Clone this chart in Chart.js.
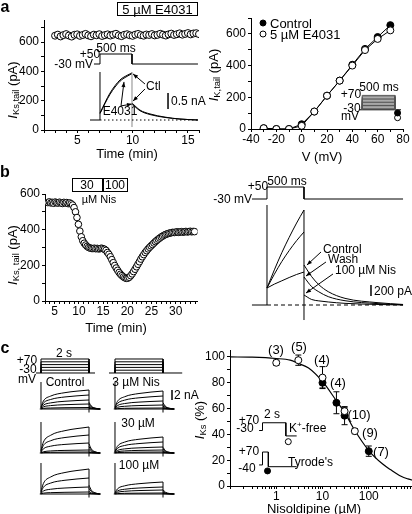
<!DOCTYPE html>
<html>
<head>
<meta charset="utf-8">
<script src="https://cdn.jsdelivr.net/npm/chart.js@4.4.1/dist/chart.umd.min.js"></script>
<style>
html, body { margin: 0; padding: 0; background: #fff; overflow: hidden; }
#page { position: relative; width: 412px; height: 514px; overflow: hidden; font-family: "Liberation Sans", Arial, sans-serif; color: #000; }
#page canvas { position: absolute; }
.lbl { position: absolute; white-space: nowrap; line-height: 1; }
.lbl sub { font-size: 0.72em; vertical-align: -0.3em; line-height: 0; }
.frame { position: absolute; border: 1px solid #000; box-sizing: border-box; }
.dot { position: absolute; width: 7px; height: 7px; border-radius: 50%; border: 1px solid #000; box-sizing: border-box; transform: translate(-50%, -50%); }
</style>
</head>
<body>
<div id="page"></div>
<script>
// ---------- panel a, left: tail current in 5 uM E4031 (min, pA)
const e4031Time = [3, 3.25, 3.5, 3.75, 4, 4.25, 4.5, 4.75, 5, 5.25,
    5.5, 5.75, 6, 6.25, 6.5, 6.75, 7, 7.25, 7.5, 7.75,
    8, 8.25, 8.5, 8.75, 9, 9.25, 9.5, 9.75, 10, 10.25,
    10.5, 10.75, 11, 11.25, 11.5, 11.75, 12, 12.25, 12.5, 12.75,
    13, 13.25, 13.5, 13.75, 14, 14.25, 14.5, 14.75, 15, 15.25,
    15.5, 15.75, 16];
const e4031Tail = [643, 650, 638, 647, 654, 644, 637, 649, 652, 642,
    648, 655, 645, 639, 650, 646, 653, 641, 647, 652,
    644, 650, 656, 645, 640, 649, 653, 646, 642, 650,
    655, 647, 643, 651, 648, 654, 645, 649, 656, 650,
    644, 652, 657, 648, 653, 659, 650, 655, 661, 652,
    658, 660, 654];
// inset traces (ms, nA, mV)
const aProtoT = [-94, 0, 0, 500, 500, 1531];
const aProtoV = [-30, -30, 50, 50, -30, -30];
const aRiseT = [0, 156, 312, 437, 500];
const aCtlRise = [0.22, 0.84, 1.25, 1.41, 1.47];
const aE4031Rise = [0.2, 0.8, 1.21, 1.38, 1.45];
const aTailT = [500, 625, 781, 1016, 1250, 1531];
const aCtlTail = [0.53, 0.31, 0.19, 0.09, 0.03, 0];
const aE4031Tail = [0.5, 0.29, 0.17, 0.08, 0.03, 0];

// ---------- panel a, right: I-V
const ivVoltage = [-30, -20, -10, 0, 10, 20, 30, 40, 50, 60, 70];
const ivControl = [5, 0, 0, 30, 110, 210, 305, 405, 505, 580, 655];
const ivE4031 = [5, 0, 0, 20, 110, 210, 305, 400, 498, 568, 622];
const ivSteps = [70, 60, 50, 40, 30, 20, 10, 0, -10, -20];

// ---------- panel b, left: nisoldipine time course (min, pA)
const nisTime = [3.6, 3.9, 4.2, 4.5, 4.8, 5.1, 5.4, 5.7, 6.0, 6.3,
    6.6, 6.9, 7.2, 7.5, 7.8, 8.1, 8.4, 8.7, 9.0, 9.3,
    9.6, 9.9, 10.2, 10.5, 10.8, 11.1, 11.4, 11.7, 12.0, 12.3,
    12.6, 12.9, 13.2, 13.5, 13.8, 14.1, 14.4, 14.7, 15.0, 15.3,
    15.6, 15.9, 16.2, 16.5, 16.8, 17.1, 17.4, 17.7, 18.0, 18.3,
    18.6, 18.9, 19.2, 19.5, 19.8, 20.1, 20.4, 20.7, 21.0, 21.3,
    21.6, 21.9, 22.2, 22.5, 22.8, 23.1, 23.4, 23.7, 24.0, 24.3,
    24.6, 24.9, 25.2, 25.5, 25.8, 26.1, 26.4, 26.7, 27.0, 27.3,
    27.6, 27.9, 28.2, 28.5, 28.8, 29.1, 29.4, 29.7, 30.0, 30.3,
    30.6, 30.9, 31.2, 31.5, 31.8, 32.1, 32.4, 32.7, 33.0, 33.3,
    33.6, 33.9];
const nisCurrent = [552, 556, 550, 553, 548, 555, 551, 549, 554, 550,
    547, 553, 549, 552, 546, 550, 545, 538, 524, 500,
    468, 430, 392, 360, 338, 324, 314, 306, 300, 297,
    295, 294, 296, 293, 295, 292, 294, 296, 293, 290,
    284, 272, 262, 248, 232, 215, 199, 185, 172, 160,
    150, 142, 135, 130, 127, 128, 133, 142, 152, 165,
    178, 192, 206, 220, 235, 248, 260, 272, 282, 292,
    301, 309, 317, 325, 333, 340, 347, 353, 359, 364,
    369, 373, 376, 379, 381, 383, 385, 384, 386, 388,
    385, 387, 389, 386, 388, 390, 387, 389, 391, 388,
    390, 389];
// panel b, right: traces (ms, pA, mV)
const bProtoT = [-203, 0, 0, 500, 500, 1838];
const bProtoV = [-30, -30, 50, 50, -30, -30];
const bStepT = [0, 100, 200, 300, 400, 500];
const bCtlStep = [309, 640, 950, 1230, 1490, 1727];
const bWashStep = [309, 560, 790, 990, 1170, 1327];
const bNisStep = [309, 380, 440, 500, 555, 600];
const bTailT = [500, 604, 700, 828, 1054, 1500, 1838];
const bCtlTail = [727, 515, 370, 242, 121, 42, 10];
const bWashTail = [509, 333, 240, 152, 78, 25, 5];
const bNisTail = [182, 100, 75, 55, 30, 10, 0];

// ---------- panel c, left: current families (s, nA); 5 rise values then 4 tail values
const cRiseT = [0, 0.1, 0.4, 1.0, 2.0];
const cTailT = [2.0, 2.1, 2.25, 2.45];
const cControl1 = [[0.38, 1.6, 2.58, 3.27, 3.8, 1.33, 0.57, 0.19, 0],
    [0.28, 1.18, 1.9, 2.41, 2.8, 0.98, 0.42, 0.14, 0],
    [0.18, 0.76, 1.22, 1.55, 1.8, 0.63, 0.27, 0.09, 0],
    [0.1, 0.42, 0.68, 0.86, 1.0, 0.35, 0.15, 0.05, 0],
    [0.03, 0.13, 0.2, 0.26, 0.3, 0.1, 0.05, 0.02, 0]];
const cNis3 = [[0.36, 1.51, 2.45, 3.1, 3.6, 1.26, 0.54, 0.18, 0],
    [0.26, 1.09, 1.77, 2.24, 2.6, 0.91, 0.39, 0.13, 0],
    [0.16, 0.67, 1.09, 1.38, 1.6, 0.56, 0.24, 0.08, 0],
    [0.08, 0.34, 0.54, 0.69, 0.8, 0.28, 0.12, 0.04, 0],
    [0.02, 0.08, 0.14, 0.17, 0.2, 0.07, 0.03, 0.01, 0]];
const cControl2 = [[0.52, 2.18, 3.54, 4.47, 5.2, 1.82, 0.78, 0.26, 0],
    [0.36, 1.51, 2.45, 3.1, 3.6, 1.26, 0.54, 0.18, 0],
    [0.2, 0.84, 1.36, 1.72, 2.0, 0.7, 0.3, 0.1, 0],
    [0.06, 0.25, 0.41, 0.52, 0.6, 0.21, 0.09, 0.03, 0],
    [0.02, 0.08, 0.14, 0.17, 0.2, 0.07, 0.03, 0.01, 0]];
const cNis30 = [[0.32, 1.34, 2.18, 2.75, 3.2, 1.12, 0.48, 0.16, 0],
    [0.22, 0.92, 1.5, 1.89, 2.2, 0.77, 0.33, 0.11, 0],
    [0.12, 0.5, 0.82, 1.03, 1.2, 0.42, 0.18, 0.06, 0],
    [0.06, 0.25, 0.41, 0.52, 0.6, 0.21, 0.09, 0.03, 0],
    [0.02, 0.08, 0.14, 0.17, 0.2, 0.07, 0.03, 0.01, 0]];
const cControl3 = [[0.5, 2.1, 3.4, 4.3, 5.0, 1.75, 0.75, 0.25, 0],
    [0.32, 1.34, 2.18, 2.75, 3.2, 1.12, 0.48, 0.16, 0],
    [0.14, 0.59, 0.95, 1.2, 1.4, 0.49, 0.21, 0.07, 0],
    [0.04, 0.17, 0.27, 0.34, 0.4, 0.14, 0.06, 0.02, 0]];
const cNis100 = [[0.24, 1.01, 1.63, 2.06, 2.4, 0.84, 0.36, 0.12, 0],
    [0.14, 0.59, 0.95, 1.2, 1.4, 0.49, 0.21, 0.07, 0],
    [0.08, 0.34, 0.54, 0.69, 0.8, 0.28, 0.12, 0.04, 0],
    [0.02, 0.08, 0.14, 0.17, 0.2, 0.07, 0.03, 0.01, 0]];
const cSpikeTop = [5.4, 6.2, 6.2];
const cProtoLevels = [70, 50, 30, 10, -10];

// ---------- panel c, right: concentration-response (uM, %)
const kfreeConc = [1, 3, 10, 30, 50];
const kfreeMean = [95.5, 97.5, 84, 58, 42.5];
const kfreeErr = [2, 4, 8.5, 3, 2];
const tyrConc = [10, 20, 30, 100];
const tyrMean = [80, 64.5, 54.5, 27];
const tyrErr = [4, 8.5, 7, 4];
const fitConc = [0.1, 0.3, 1, 2, 3, 5, 10, 20, 30, 50, 100, 200, 300, 500, 700, 1000];
const fitPct = [100, 99.8, 98.8, 97.5, 95, 91.5, 81, 66, 57, 43, 27.5, 17, 12.5, 7.5, 5.5, 4];
const nCounts = ['(3)', '(5)', '(4)', '(4)', '(10)', '(9)', '(7)'];

Chart.defaults.font.family = '"Liberation Sans", Arial, sans-serif';
Chart.defaults.font.size = 12;
Chart.defaults.color = '#000';

const page = document.getElementById('page');

// arrowheads at the last point of datasets flagged with arrow:true
const arrowHeads = {
    id: 'arrowHeads',
    afterDatasetsDraw(chart) {
        const ctx = chart.ctx;
        chart.data.datasets.forEach((ds, i) => {
            if (!ds.arrow) return;
            const pts = chart.getDatasetMeta(i).data;
            const a = pts[pts.length - 2], b = pts[pts.length - 1];
            ctx.save();
            ctx.translate(b.x, b.y);
            ctx.rotate(Math.atan2(b.y - a.y, b.x - a.x));
            ctx.beginPath();
            ctx.moveTo(0, 0); ctx.lineTo(-5, -2); ctx.lineTo(-5, 2);
            ctx.closePath();
            ctx.fillStyle = '#000';
            ctx.fill();
            ctx.restore();
        });
    }
};
// vertical error bars for datasets carrying an errors array
const errorBars = {
    id: 'errorBars',
    beforeDatasetsDraw(chart) {
        const ctx = chart.ctx;
        chart.data.datasets.forEach(ds => {
            if (!ds.errors) return;
            const xs = chart.scales.x, ys = chart.scales.y;
            ctx.save();
            ctx.strokeStyle = '#000';
            ctx.lineWidth = 1;
            ds.data.forEach((p, j) => {
                const px = xs.getPixelForValue(p.x);
                const top = ys.getPixelForValue(p.y + ds.errors[j]);
                const bot = ys.getPixelForValue(p.y - ds.errors[j]);
                ctx.beginPath();
                ctx.moveTo(px, top); ctx.lineTo(px, bot);
                ctx.moveTo(px - 3, top); ctx.lineTo(px + 3, top);
                ctx.moveTo(px - 3, bot); ctx.lineTo(px + 3, bot);
                ctx.stroke();
            });
            ctx.restore();
        });
    }
};
Chart.register(arrowHeads, errorBars);

function place(x, y, w, h) {
    const c = document.createElement('canvas');
    c.width = w; c.height = h;
    c.style.left = x + 'px'; c.style.top = y + 'px';
    c.style.width = w + 'px'; c.style.height = h + 'px';
    page.appendChild(c);
    return c;
}
function text(html, x, y, align, size, kind) {
    const d = document.createElement('div');
    d.className = 'lbl';
    d.innerHTML = html;
    const tx = align === 'l' ? '0' : align === 'r' ? '-100%' : '-50%';
    d.style.left = x + 'px';
    d.style.top = y + 'px';
    d.style.fontSize = (size || 12) + 'px';
    d.style.transform = 'translate(' + tx + ',-50%)' + (kind === 'rot' ? ' rotate(-90deg)' : '');
    if (kind === 'bold') d.style.fontWeight = 'bold';
    page.appendChild(d);
}
function frame(x, y, w, h) {
    const d = document.createElement('div');
    d.className = 'frame';
    d.style.cssText = 'left:' + x + 'px;top:' + y + 'px;width:' + w + 'px;height:' + h + 'px';
    page.appendChild(d);
}
function dot(x, y, filled) {
    const d = document.createElement('div');
    d.className = 'dot';
    d.style.left = x + 'px'; d.style.top = y + 'px';
    d.style.background = filled ? '#000' : '#fff';
    page.appendChild(d);
}

function pairs(xs, ys) {
    return xs.map((x, i) => ({ x: x, y: ys[i] }));
}
function linAxis(min, max, step, every, fitSize, vertical) {
    return {
        type: 'linear', min: min, max: max,
        ticks: {
            stepSize: step, autoSkip: false, maxRotation: 0, includeBounds: false,
            padding: vertical ? 2 : 0, font: { size: 12 },
            callback: v => Math.abs(v / every - Math.round(v / every)) < 1e-6 ? v : ''
        },
        grid: { display: true, drawOnChartArea: false, drawTicks: true, tickLength: 3, color: '#000' },
        border: { display: true, color: '#000', width: 1 },
        afterFit: s => { if (vertical) s.width = fitSize; else s.height = fitSize; }
    };
}
function mainOptions(padTop, padRight, x, y) {
    return {
        responsive: false, animation: false,
        layout: { padding: { left: 0, top: padTop, right: padRight, bottom: 0 } },
        plugins: { legend: { display: false }, tooltip: { enabled: false } },
        scales: { x: x, y: y }
    };
}
// trace line in an inset
function trace(xs, ys, axis, extra) {
    return Object.assign({
        data: pairs(xs, ys), yAxisID: axis, showLine: true, pointRadius: 0,
        borderColor: '#000', borderWidth: 1, tension: 0
    }, extra || {});
}
const smooth = { cubicInterpolationMode: 'monotone' };
function inset(canvas, xr, axes, datasets) {
    const scales = { x: { type: 'linear', display: false, min: xr[0], max: xr[1] } };
    for (const k in axes) scales[k] = { type: 'linear', display: false, min: axes[k][0], max: axes[k][1] };
    return new Chart(canvas, {
        type: 'scatter',
        data: { datasets: datasets },
        options: {
            responsive: false, animation: false, layout: { padding: 0 },
            plugins: { legend: { display: false }, tooltip: { enabled: false } },
            scales: scales
        }
    });
}
const openPt = { pointBackgroundColor: '#fff', pointBorderColor: '#000', pointBorderWidth: 1 };
const filledPt = { pointBackgroundColor: '#000', pointBorderColor: '#000', pointBorderWidth: 1 };

// ================= panel a, left
new Chart(place(0, 0, 212, 165), {
    type: 'scatter',
    data: { datasets: [Object.assign({ data: pairs(e4031Time, e4031Tail), pointRadius: 3.5 }, openPt)] },
    options: mainOptions(20, 13, linAxis(2, 16, 1, 5, 35, false), linAxis(0, 750, 100, 200, 44, true))
});
inset(place(60, 40, 142, 92), [-625, 1594], { y: [-0.375, 2.5], yv: [-574, 162] }, [
    trace(aProtoT, aProtoV, 'yv'),
    trace([-156, 0], [0, 0], 'y'),
    trace([0, 1531], [0, 0], 'y', { borderDash: [1.5, 2.5] }),
    trace([0, 0], [0, 1.5], 'y'),
    trace([500, 500], [-0.22, 1.5], 'y', { borderColor: '#888' }),
    trace(aRiseT, aCtlRise, 'y', smooth),
    trace(aRiseT, aE4031Rise, 'y', smooth),
    trace(aTailT, aCtlTail, 'y', smooth),
    trace(aTailT, aE4031Tail, 'y', smooth),
    trace([1063, 1063], [0.34, 0.84], 'y', { borderWidth: 1.5 }),
    trace([703, 516], [1.125, 1.44], 'y', { arrow: true }),
    trace([703, 516], [0.97, 0.59], 'y', { arrow: true }),
    trace([328, 375], [0.44, 1.19], 'y', { arrow: true }),
    trace([328, 500], [0.44, 0.5], 'y', { arrow: true })
]);
text('a', 5, 7, 'c', 16, 'bold');
frame(117, 2, 81, 14);
text('5 µM E4031', 157.5, 9, 'c', 13);
text('<i>I</i><sub>Ks,tail</sub> (pA)', 12, 90, 'c', 13, 'rot');
text('Time (min)', 127, 153, 'c', 13);
text('+50', 90, 54, 'c');
text('500 ms', 116, 48, 'c');
text('-30 mV', 93, 64, 'r');
text('Ctl', 146, 86, 'l');
text('E4031', 120, 111, 'c');
text('0.5 nA', 171, 101, 'l');

// ================= panel a, right
new Chart(place(205, 0, 207, 165), {
    type: 'scatter',
    data: {
        datasets: [
            Object.assign({ data: pairs(ivVoltage, ivE4031), showLine: true, borderColor: '#000', borderWidth: 1, pointRadius: 3.5 }, openPt),
            Object.assign({ data: pairs(ivVoltage, ivControl), showLine: true, borderColor: '#000', borderWidth: 1, pointRadius: 3.5 }, filledPt)
        ]
    },
    options: mainOptions(18, 9, linAxis(-40, 80, 10, 20, 36, false), linAxis(0, 700, 100, 200, 46, true))
});
const ivInset = ivSteps.map(v => trace([0, 0, 500, 500], [-30, v, v, -30], 'yv', { borderColor: '#555' }));
ivInset.push(trace([-39, 592], [-30, -30], 'yv'));
ivInset.push(Object.assign(trace([540], [-52], 'yv'), { showLine: false, pointRadius: 3 }, filledPt));
ivInset.push(Object.assign(trace([540], [-85], 'yv'), { showLine: false, pointRadius: 3 }, openPt));
inset(place(340, 80, 72, 50), [-263, 684], { yv: [-135.6, 142.2] }, ivInset);
text('<i>I</i><sub>K,tail</sub> (pA)', 213, 75, 'c', 13, 'rot');
text('V (mV)', 322, 156, 'c', 13);
dot(263, 23, true);
dot(263, 34, false);
text('Control', 270, 23, 'l', 13);
text('5 µM E4031', 270, 34, 'l', 13);
text('500 ms', 379, 87, 'c');
text('+70', 351, 94, 'c');
text('-30', 352, 108, 'c');
text('mV', 350, 116, 'c');

// ================= panel b, left
new Chart(place(0, 165, 210, 170), {
    type: 'scatter',
    data: { datasets: [Object.assign({ data: pairs(nisTime, nisCurrent), pointRadius: 3.3 }, openPt)] },
    options: mainOptions(29, 12.5, linAxis(3, 34.5, 1, 5, 34, false), linAxis(0, 600, 100, 200, 45, true))
});
text('b', 5, 172, 'c', 16, 'bold');
frame(72, 178, 56, 14);
frame(101.5, 178, 1, 14);
text('30', 87, 185, 'c');
text('100', 115, 185, 'c');
text('µM Nis', 99, 199, 'c', 11);
text('<i>I</i><sub>Ks, tail</sub> (pA)', 12, 255, 'c', 13, 'rot');
text('Time (min)', 116, 327, 'c', 13);

// ================= panel b, right
inset(place(245, 172, 165, 150), [-297, 1932], { y: [-309, 2418], yv: [-850, 150] }, [
    trace(bProtoT, bProtoV, 'yv'),
    trace([-203, 0], [0, 0], 'y'),
    trace([0, 1838], [0, 0], 'y', { borderDash: [4, 3] }),
    trace([0, 0], [0, 1818], 'y'),
    trace([500, 500], [-273, 1727], 'y'),
    trace(bStepT, bCtlStep, 'y', smooth),
    trace(bStepT, bWashStep, 'y', smooth),
    trace(bStepT, bNisStep, 'y', smooth),
    trace(bTailT, bCtlTail, 'y', smooth),
    trace(bTailT, bWashTail, 'y', smooth),
    trace(bTailT, bNisTail, 'y', smooth),
    trace([1405, 1405], [164, 364], 'y', { borderWidth: 1.5 }),
    trace([730, 540], [964, 727], 'y', { arrow: true }),
    trace([797, 527], [782, 527], 'y', { arrow: true }),
    trace([892, 527], [564, 218], 'y', { arrow: true })
]);
text('+50', 258, 186, 'c');
text('500 ms', 287, 181, 'c');
text('-30 mV', 252, 199, 'r');
text('Control', 323, 249, 'l');
text('Wash', 328, 259, 'l');
text('100 µM Nis', 335, 270, 'l');
text('200 pA', 374, 291, 'l');

// ================= panel c, left
function family(rows, axis, spikeTop) {
    const ds = [];
    rows.forEach(r => {
        ds.push(trace(cRiseT, r.slice(0, 5), axis, smooth));
        ds.push(trace(cTailT, r.slice(5), axis, smooth));
    });
    ds.push(trace([0, 0], [0, spikeTop], axis));
    ds.push(trace([2, 2], [-0.7, rows[0][4]], axis));
    ds.push(trace([-0.05, 2.5], [0, 0], axis));
    return ds;
}
function protocol(t0, t1) {
    const ds = cProtoLevels.map(v => trace([0, 0, 2, 2], [-30, v, v, -30], 'yv'));
    ds.push(trace([t0, t1], [-30, -30], 'yv'));
    return ds;
}
const cAxes = { y1: [-19.2, 12.8], y2: [-10.4, 21.6], y3: [-2.2, 29.8], yv: [-972.9, 170] };
inset(place(30, 345, 76, 160), [-0.458, 2.708], cAxes, [].concat(
    protocol(-0.21, 2.25),
    family(cControl1, 'y1', cSpikeTop[0]),
    family(cControl2, 'y2', cSpikeTop[1]),
    family(cControl3, 'y3', cSpikeTop[2])
));
inset(place(104, 345, 82, 160), [-0.458, 2.958], cAxes, [].concat(
    protocol(-0.25, 2.8),
    family(cNis3, 'y1', cSpikeTop[0]),
    family(cNis30, 'y2', cSpikeTop[1]),
    family(cNis100, 'y3', cSpikeTop[2]),
    [trace([2.375, 2.375], [1.8, 3.8], 'y1', { borderWidth: 1.5 })]
));
text('c', 5, 348, 'c', 16, 'bold');
text('+70', 27, 360, 'c');
text('-30', 28, 369, 'c');
text('mV', 27, 379, 'c');
text('2 s', 64, 353, 'c');
text('Control', 65, 382, 'c');
text('3 µM Nis', 136, 382, 'c');
text('30 µM', 138, 423, 'c');
text('100 µM', 139, 465, 'c');
text('2 nA', 174, 395, 'l');

// ================= panel c, right
const logAxis = {
    type: 'logarithmic', min: 0.1, max: 1000,
    ticks: { autoSkip: false, maxRotation: 0, padding: 0, font: { size: 12 },
        callback: v => ([1, 10, 100].includes(v) ? String(v) : '') },
    grid: { display: true, drawOnChartArea: false, drawTicks: true, tickLength: 3, color: '#000' },
    border: { display: true, color: '#000', width: 1 },
    afterFit: s => { s.height = 28; }
};
new Chart(place(200, 335, 220, 179), {
    type: 'scatter',
    data: {
        datasets: [
            Object.assign({ data: pairs(kfreeConc, kfreeMean), errors: kfreeErr, pointRadius: 3.5 }, openPt),
            Object.assign({ data: pairs(tyrConc, tyrMean), errors: tyrErr, pointRadius: 3.5 }, filledPt),
            { data: pairs(fitConc, fitPct), showLine: true, pointRadius: 0, borderColor: '#000', borderWidth: 1.2, cubicInterpolationMode: 'monotone' }
        ]
    },
    options: mainOptions(15.5, 4, logAxis, linAxis(0, 105, 10, 20, 30, true))
});
inset(place(250, 410, 60, 72), [-0.643, 3.643], { yk: [-630, 170], yt: [-142.7, 385.3] }, [
    trace([-0.29, 0, 0, 2, 2, 2.93], [-30, -30, 70, 70, -100, -100], 'yk'),
    trace([-0.29, 0, 0, 0.5, 0.5, 2.93], [-40, -40, 70, 70, -55, -55], 'yt'),
    Object.assign(trace([2.21], [-174], 'yk'), { showLine: false, pointRadius: 3 }, openPt),
    Object.assign(trace([0.43], [-91], 'yt'), { showLine: false, pointRadius: 3 }, filledPt)
]);
text('<i>I</i><sub>Ks</sub> (%)', 199, 420, 'c', 13, 'rot');
text('Nisoldipine (µM)', 314, 508, 'c', 13);
text(nCounts[0], 276, 349, 'c', 13);
text(nCounts[1], 299, 346, 'c', 13);
text(nCounts[2], 322, 359, 'c', 13);
text(nCounts[3], 338, 382, 'c', 13);
text(nCounts[4], 359, 414, 'c', 13);
text(nCounts[5], 370, 432, 'c', 13);
text(nCounts[6], 381, 451, 'c', 13);
text('+70', 249, 420, 'c');
text('2 s', 272, 414, 'c');
text('-30', 245, 428, 'c');
text('K<sup style="font-size:8px">+</sup>-free', 289, 427, 'l');
text('+70', 249, 451, 'c');
text('-40', 247, 468, 'c');
text('Tyrode\'s', 288, 462, 'l');
</script>
</body>
</html>
